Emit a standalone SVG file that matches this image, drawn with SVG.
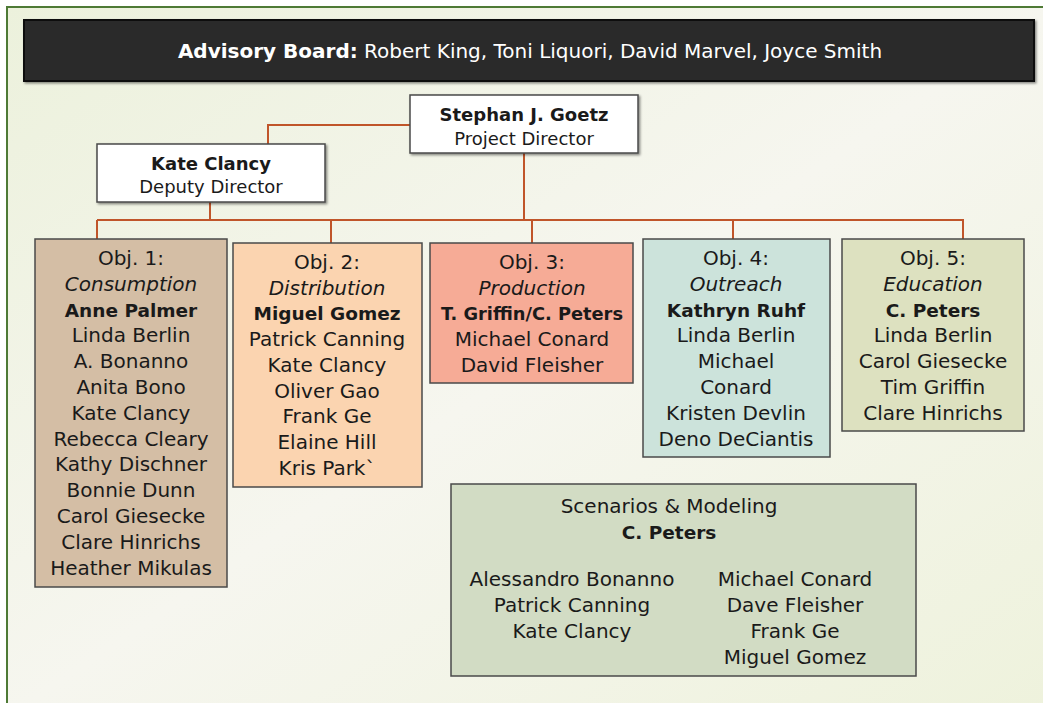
<svg xmlns="http://www.w3.org/2000/svg" width="1043" height="703" viewBox="0 0 1043 703">
<defs>
<linearGradient id="bg" x1="0" y1="0" x2="1" y2="1">
<stop offset="0" stop-color="#ecf1dc"/>
<stop offset="0.5" stop-color="#f6f6ef"/>
<stop offset="1" stop-color="#eef2dc"/>
</linearGradient>
<filter id="sh" x="-5%" y="-5%" width="115%" height="115%">
<feDropShadow dx="1.5" dy="1.5" stdDeviation="1" flood-color="#000" flood-opacity="0.45"/>
</filter>
</defs>
<style>
text{font-family:"DejaVu Sans","Liberation Sans",sans-serif;fill:#1a1a1a;text-anchor:middle}
.t{font-size:20px}
.b{font-weight:bold}
.t.b{font-size:18.5px}
.i{font-style:italic}
.h{font-size:18px}
.box{stroke:#4a4a4a;stroke-width:1.5}
.conn{fill:none;stroke:#c0552a;stroke-width:2}
</style>
<rect x="0" y="0" width="1043" height="703" fill="#ffffff"/>
<rect x="7" y="7" width="1050" height="710" fill="url(#bg)" stroke="#4e7a35" stroke-width="2"/>
<g id="advisory">
<rect x="24" y="20" width="1010" height="61" fill="#2b2b2b" stroke="#111" stroke-width="2" filter="url(#sh)"/>
<text x="530" y="58" style="font-size:20px;fill:#ffffff"><tspan font-weight="bold" style="fill:#fff">Advisory Board:</tspan><tspan style="fill:#fff"> Robert King, Toni Liquori, David Marvel, Joyce Smith</tspan></text>
</g>
<g id="connectors">
<polyline class="conn" points="410,125 268,125 268,144"/>
<line class="conn" x1="524" y1="153" x2="524" y2="220"/>
<line class="conn" x1="210" y1="202" x2="210" y2="220"/>
<line class="conn" x1="97" y1="220" x2="964" y2="220"/>
<line class="conn" x1="97" y1="220" x2="97" y2="239"/>
<line class="conn" x1="331" y1="220" x2="331" y2="243"/>
<line class="conn" x1="532" y1="220" x2="532" y2="243"/>
<line class="conn" x1="733" y1="220" x2="733" y2="239"/>
<line class="conn" x1="963" y1="220" x2="963" y2="239"/>
</g>
<g id="director">
<rect class="box" x="410" y="95" width="228" height="58" fill="#ffffff" filter="url(#sh)"/>
<text class="h b" x="524" y="121">Stephan J. Goetz</text>
<text class="h" x="524" y="145">Project Director</text>
</g>
<g id="deputy">
<rect class="box" x="97" y="144" width="228" height="58" fill="#ffffff" filter="url(#sh)"/>
<text class="h b" x="211" y="170">Kate Clancy</text>
<text class="h" x="211" y="193">Deputy Director</text>
</g>
<g id="obj1">
<rect class="box" x="35" y="239" width="192" height="348" fill="#d4bea5"/>
<text class="t" x="131" y="265">Obj. 1:</text>
<text class="t i" x="131" y="290.8">Consumption</text>
<text class="t b" x="131" y="316.6">Anne Palmer</text>
<text class="t" x="131" y="342.4">Linda Berlin</text>
<text class="t" x="131" y="368.2">A. Bonanno</text>
<text class="t" x="131" y="394">Anita Bono</text>
<text class="t" x="131" y="419.8">Kate Clancy</text>
<text class="t" x="131" y="445.6">Rebecca Cleary</text>
<text class="t" x="131" y="471.4">Kathy Dischner</text>
<text class="t" x="131" y="497.2">Bonnie Dunn</text>
<text class="t" x="131" y="523">Carol Giesecke</text>
<text class="t" x="131" y="548.8">Clare Hinrichs</text>
<text class="t" x="131" y="574.6">Heather Mikulas</text>
</g>
<g id="obj2">
<rect class="box" x="233" y="243" width="189" height="244" fill="#fbd4b0"/>
<text class="t" x="327" y="269">Obj. 2:</text>
<text class="t i" x="327" y="294.7">Distribution</text>
<text class="t b" x="327" y="320.4">Miguel Gomez</text>
<text class="t" x="327" y="346.1">Patrick Canning</text>
<text class="t" x="327" y="371.8">Kate Clancy</text>
<text class="t" x="327" y="397.5">Oliver Gao</text>
<text class="t" x="327" y="423.2">Frank Ge</text>
<text class="t" x="327" y="448.9">Elaine Hill</text>
<text class="t" x="327" y="474.6">Kris Park`</text>
</g>
<g id="obj3">
<rect class="box" x="430" y="243" width="203" height="140" fill="#f6ab96"/>
<text class="t" x="532" y="269">Obj. 3:</text>
<text class="t i" x="532" y="294.7">Production</text>
<text class="t b" x="532" y="320.4" textLength="182" lengthAdjust="spacingAndGlyphs">T. Griffin/C. Peters</text>
<text class="t" x="532" y="346.1">Michael Conard</text>
<text class="t" x="532" y="371.8">David Fleisher</text>
</g>
<g id="obj4">
<rect class="box" x="643" y="239" width="187" height="218" fill="#cce3db"/>
<text class="t" x="736" y="265">Obj. 4:</text>
<text class="t i" x="736" y="290.8">Outreach</text>
<text class="t b" x="736" y="316.6">Kathryn Ruhf</text>
<text class="t" x="736" y="342.4">Linda Berlin</text>
<text class="t" x="736" y="368.2">Michael</text>
<text class="t" x="736" y="394">Conard</text>
<text class="t" x="736" y="419.8">Kristen Devlin</text>
<text class="t" x="736" y="445.6">Deno DeCiantis</text>
</g>
<g id="obj5">
<rect class="box" x="842" y="239" width="182" height="192" fill="#dde1c0"/>
<text class="t" x="933" y="265">Obj. 5:</text>
<text class="t i" x="933" y="290.8">Education</text>
<text class="t b" x="933" y="316.6">C. Peters</text>
<text class="t" x="933" y="342.4">Linda Berlin</text>
<text class="t" x="933" y="368.2">Carol Giesecke</text>
<text class="t" x="933" y="394">Tim Griffin</text>
<text class="t" x="933" y="419.8">Clare Hinrichs</text>
</g>
<g id="scenarios">
<rect class="box" x="451" y="484" width="465" height="192" fill="#d2dcc4"/>
<text class="t" x="669" y="513">Scenarios &amp; Modeling</text>
<text class="t b" x="669" y="539">C. Peters</text>
<text class="t" x="572" y="586">Alessandro Bonanno</text>
<text class="t" x="572" y="612">Patrick Canning</text>
<text class="t" x="572" y="638">Kate Clancy</text>
<text class="t" x="795" y="586">Michael Conard</text>
<text class="t" x="795" y="612">Dave Fleisher</text>
<text class="t" x="795" y="638">Frank Ge</text>
<text class="t" x="795" y="664">Miguel Gomez</text>
</g>
</svg>
